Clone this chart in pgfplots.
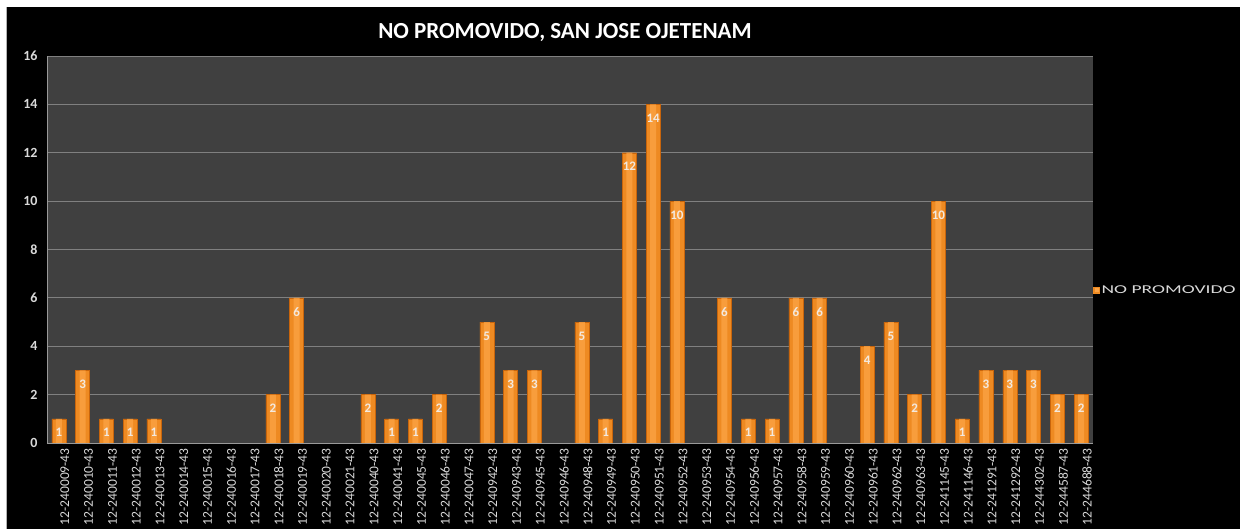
\documentclass[border=0pt]{standalone}
\usepackage{pgfplots}
\pgfplotsset{compat=1.18}
\usepackage{fontspec}
\setmainfont{Carlito}
\definecolor{plotbg}{HTML}{404040}
\definecolor{gridc}{HTML}{808080}
\definecolor{ticktxt}{HTML}{D9D9D9}
\definecolor{barmid}{HTML}{FCA445}
\definecolor{barfill}{HTML}{EE8A22}
\definecolor{baredge}{HTML}{C8650C}
\definecolor{labtxt}{HTML}{F3E9DF}
\pgfplotstableread{
x y
0 1
1 3
2 1
3 1
4 1
5 0
6 0
7 0
8 0
9 2
10 6
11 0
12 0
13 2
14 1
15 1
16 2
17 0
18 5
19 3
20 3
21 0
22 5
23 1
24 12
25 14
26 10
27 0
28 6
29 1
30 1
31 6
32 6
33 0
34 4
35 5
36 2
37 10
38 1
39 3
40 3
41 3
42 2
43 2
}\datatable
\begin{document}
\begin{tikzpicture}[x=1pt,y=1pt]
\fill[white] (0,0) rectangle (1251,529);
\fill[black] (6,0) rectangle (1240,522);
\draw[gray!60] (6,0) -- (6,522);
\node[font=\bfseries\fontsize{23}{27}\selectfont, text=white] at (565,496) {NO PROMOVIDO, SAN JOSE OJETENAM};
\begin{axis}[
  at={(47pt,86pt)}, anchor=south west,
  scale only axis, width=1046pt, height=387pt,
  xmin=-0.5, xmax=43.5, ymin=0, ymax=16,
  ytick={0,2,...,16},
  xtick={0,...,43},
  xticklabels={12-240009-43,12-240010-43,12-240011-43,12-240012-43,12-240013-43,12-240014-43,12-240015-43,12-240016-43,12-240017-43,12-240018-43,12-240019-43,12-240020-43,12-240021-43,12-240040-43,12-240041-43,12-240045-43,12-240046-43,12-240047-43,12-240942-43,12-240943-43,12-240945-43,12-240946-43,12-240948-43,12-240949-43,12-240950-43,12-240951-43,12-240952-43,12-240953-43,12-240954-43,12-240956-43,12-240957-43,12-240958-43,12-240959-43,12-240960-43,12-240961-43,12-240962-43,12-240963-43,12-241145-43,12-241146-43,12-241291-43,12-241292-43,12-244302-43,12-244587-43,12-244688-43},
  x tick label style={rotate=90, anchor=east, font=\fontsize{13.5}{14}\selectfont, text=ticktxt, inner sep=1pt, yshift=-6pt},
  y tick label style={font=\bfseries\fontsize{14}{15}\selectfont, text=ticktxt, xshift=-6pt},
  /pgf/number format/assume math mode=true,
  tick style={draw=none},
  axis lines*=left,
  axis line style={draw=gray!80, line width=0.8pt},
  axis background/.style={fill=plotbg},
  ymajorgrids, grid style={draw=gridc, line width=0.8pt},
  ybar, bar width=14pt, bar shift=0pt,
  y filter/.expression={y==0 ? nan : y},
  legend style={at={(1.0,0.395)}, anchor=west, draw=none, fill=none, text=ticktxt, font=\fontsize{12}{13}\selectfont, inner sep=0pt},
  legend image code/.code={\fill[barfill] (0pt,-3pt) rectangle (6pt,3pt); \fill[barmid] (1.5pt,-1.5pt) rectangle (4.5pt,1.5pt);},
]
\addplot[draw=baredge, line width=0.4pt, fill=barfill] table[x=x, y=y] {\datatable};
\addlegendentry{\scalebox{1.63}[1]{NO PROMOVIDO}}
\addplot[draw=none, fill=barmid, fill opacity=0.75, bar width=6pt, forget plot,
  nodes near coords,
  every node near coord/.append style={anchor=north, yshift=-6pt, font=\bfseries\fontsize{13}{14}\selectfont, text=labtxt, text opacity=1}]
  table[x=x, y=y] {\datatable};
\end{axis}
\end{tikzpicture}
\end{document}
